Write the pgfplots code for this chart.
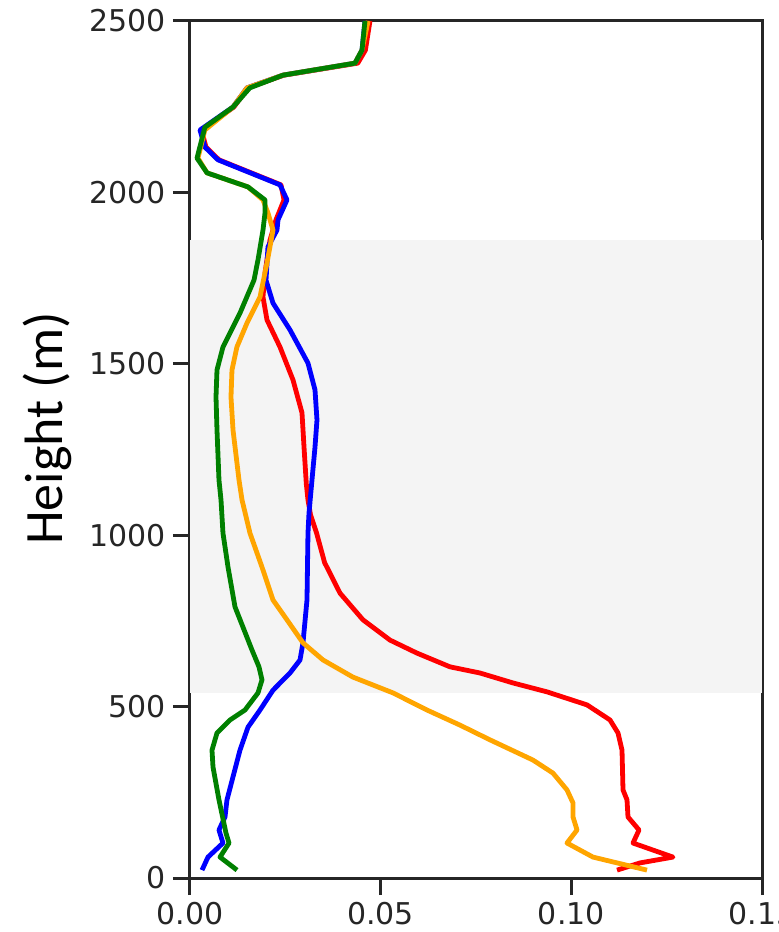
\documentclass[border=0pt]{standalone}
\usepackage{pgfplots}
\pgfplotsset{compat=1.18}
\usepackage{fontspec}
\setmainfont{DejaVu Sans}
\newfontfamily\labfont{Carlito}
\definecolor{axgray}{RGB}{38,38,38}
\definecolor{band}{RGB}{244,244,244}
\definecolor{morange}{RGB}{255,165,0}
\definecolor{mgreen}{RGB}{0,128,0}
\begin{document}
\begin{tikzpicture}
\begin{axis}[
  scale only axis, width=286pt, height=428.5pt,
  xmin=0, xmax=0.15, ymin=0, ymax=2500,
  xtick={0,0.05,0.10,0.15}, xticklabels={0.00,0.05,0.10,0.15},
  ytick={0,500,1000,1500,2000,2500}, yticklabels={0,500,1000,1500,2000,2500},
  tick pos=left, tick align=outside, major tick length=8.5pt,
  tick style={line width=1.5pt, color=axgray},
  axis line style={line width=1.5pt, color=axgray},
  /pgf/number format/assume math mode=true,
  ticklabel style={font=\fontsize{15}{18}\selectfont, text=axgray},
  ylabel={\labfont\fontsize{27}{32}\selectfont Height (m)},
  every axis y label/.style={at={(axis description cs:-0.25,0.5245)}, rotate=90, anchor=center},
  clip=true,
]
\coordinate (sw) at (rel axis cs:0,0);
\coordinate (ne) at (rel axis cs:1,1);
\addplot[draw=none, fill=band] coordinates {(0,540) (0.15,540) (0.15,1861) (0,1861)} -- cycle;
% red
\addplot[red, line width=2.4pt, line join=round] coordinates {
(0.11198,23) (0.11801,44) (0.12666,61) (0.11617,102) (0.11775,140) (0.11486,178) (0.1146,228) (0.11355,257) (0.11329,373) (0.11224,423) (0.11014,461) (0.10411,505) (0.09362,543) (0.0847,569) (0.07605,598) (0.06818,616) (0.05953,656) (0.05245,694) (0.04537,753) (0.03934,831) (0.03530,920) (0.03320,1006) (0.03160,1060) (0.03094,1103) (0.03050,1150) (0.0299,1257) (0.02937,1357) (0.02701,1453) (0.0236,1549) (0.02019,1628) (0.01914,1695) (0.01967,1765) (0.02098,1861) (0.02255,1920) (0.02465,1978) (0.02386,2022) (0.0076,2095) (0.0042,2132) (0.0030,2182) (0.0115,2249) (0.0152,2305) (0.0246,2342) (0.0440,2377) (0.0460,2415) (0.0472,2500)};
% blue
\addplot[blue, line width=2.4pt, line join=round] coordinates {
(0.00315,23) (0.00472,61) (0.00865,102) (0.0076,140) (0.00918,178) (0.0097,228) (0.01311,373) (0.01521,440) (0.01836,490) (0.02177,548) (0.02622,598) (0.02885,636) (0.02963,686) (0.03068,811) (0.03094,1006) (0.03121,1065) (0.03199,1161) (0.03278,1257) (0.0333,1336) (0.03278,1424) (0.03094,1502) (0.02622,1599) (0.02177,1677) (0.01993,1744) (0.02045,1841) (0.02281,1890) (0.02308,1920) (0.02544,1978) (0.0236,2022) (0.00734,2095) (0.00393,2132) (0.00262,2182) (0.01128,2249) (0.01495,2305) (0.02439,2342) (0.04327,2377) (0.04511,2415) (0.04589,2500)};
% orange
\addplot[morange, line width=2.4pt, line join=round] coordinates {
(0.11984,23) (0.10568,61) (0.09886,102) (0.10149,140) (0.10044,178) (0.10044,219) (0.09886,257) (0.09519,306) (0.08995,344) (0.07867,403) (0.0708,446) (0.06215,490) (0.05323,540) (0.04274,586) (0.03488,636) (0.02963,686) (0.02544,753) (0.02177,811) (0.01888,907) (0.01573,1006) (0.01364,1103) (0.01285,1161) (0.01128,1307) (0.01075,1403) (0.01101,1482) (0.0123,1549) (0.01495,1619) (0.01836,1695) (0.02019,1794) (0.02177,1890) (0.02045,1940) (0.01914,1978) (0.01521,2016) (0.00446,2057) (0.0021,2100) (0.0039,2182) (0.01128,2249) (0.01495,2305) (0.02439,2342) (0.04327,2377) (0.04511,2415) (0.0467,2500)};
% green
\addplot[mgreen, line width=2.4pt, line join=round] coordinates {
(0.01233,23) (0.00787,61) (0.01023,102) (0.00944,131) (0.0076,228) (0.00603,324) (0.00577,373) (0.00708,423) (0.01049,461) (0.01442,490) (0.01783,540) (0.01888,578) (0.01809,616) (0.01626,665) (0.0118,791) (0.00997,907) (0.00865,1006) (0.00813,1103) (0.0076,1161) (0.00708,1307) (0.00682,1403) (0.00708,1482) (0.00865,1549) (0.01311,1648) (0.01678,1744) (0.01783,1803) (0.01914,1890) (0.01967,1940) (0.01967,1978) (0.01521,2016) (0.00446,2057) (0.00184,2100) (0.0039,2190) (0.01128,2249) (0.0157,2305) (0.02439,2342) (0.04327,2377) (0.04511,2415) (0.04589,2500)};
\end{axis}
\pgfresetboundingbox
\path ([shift={(-95pt,-27pt)}]sw) rectangle ([shift={(8pt,10.5pt)}]ne);
\end{tikzpicture}
\end{document}
